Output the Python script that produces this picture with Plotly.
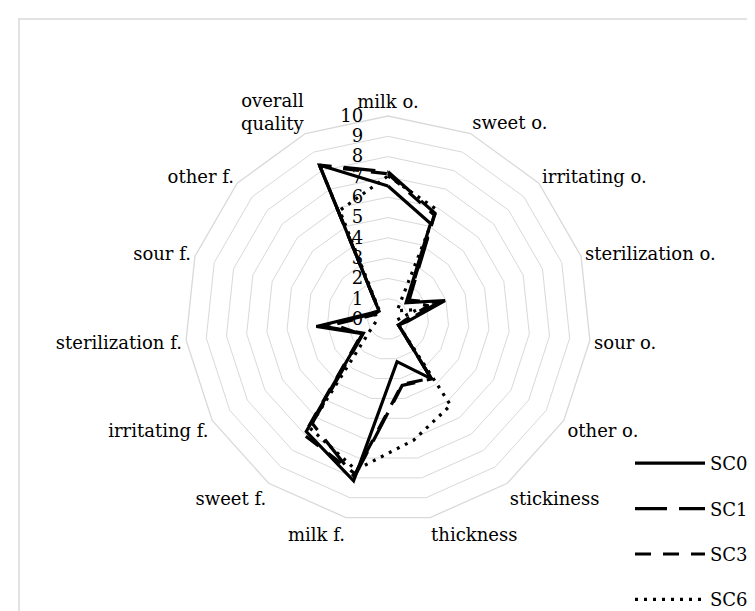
import plotly.graph_objects as go

categories = ["milk o.", "sweet o.", "irritating o.", "sterilization o.", "sour o.",
              "other o.", "stickiness", "thickness", "milk f.", "sweet f.",
              "irritating f.", "sterilization f.", "sour f.", "other f.", "overall<br>quality"]

sc0 = [6.55, 5.15, 1.2, 2.95, 1.0, 0.6, 3.65, 2.15, 8.15, 6.85, 1.45, 3.55, 0.9, 0.6, 8.3]
sc1 = [7.25, 5.7, 1.4, 2.6, 0.9, 0.6, 3.65, 3.35, 7.95, 6.35, 1.4, 3.3, 0.8, 0.6, 8.3]
sc3 = [7.15, 5.6, 1.3, 2.1, 0.8, 0.6, 3.6, 3.3, 7.8, 7.05, 1.5, 2.7, 0.7, 0.6, 8.25]
sc6 = [7.05, 5.9, 0.6, 1.5, 0.45, 0.6, 5.25, 6.1, 7.6, 6.6, 0.95, 0.55, 0.65, 0.55, 5.85]

series_names = ["SC0", "SC1", "SC3", "SC6"]
series_values = [sc0, sc1, sc3, sc6]
dashes = ["solid", "32px,12px", "16px,12px", "3px,6px"]

radial_ticks = list(range(0, 11))

FONT = "DejaVu Serif"
FS = 18

fig = go.Figure()
for name, vals, dash in zip(series_names, series_values, dashes):
    fig.add_trace(go.Scatterpolar(
        r=vals + vals[:1],
        theta=categories + categories[:1],
        mode="lines",
        name=name,
        legendgroup=name,
        line=dict(color="black", width=3.2, dash=dash),
    ))

W, H = 755, 611
cx, cy, R = 380, 311, 203

fig.update_layout(
    width=W, height=H,
    margin=dict(l=0, r=0, t=0, b=0),
    paper_bgcolor="white",
    plot_bgcolor="white",
    font=dict(family=FONT, size=FS, color="black"),
    showlegend=True,
    legend=dict(
        x=622 / W, y=1 - 437 / H, xanchor="left", yanchor="top",
        traceorder="grouped", tracegroupgap=19,
        itemwidth=70,
        font=dict(family=FONT, size=FS, color="black"),
        bgcolor="rgba(0,0,0,0)",
    ),
    polar=dict(
        domain=dict(x=[(cx - R) / W, (cx + R) / W], y=[1 - (cy + R) / H, 1 - (cy - R) / H]),
        gridshape="linear",
        bgcolor="white",
        radialaxis=dict(
            range=[0, 10], tickvals=radial_ticks,
            ticktext=[str(v) for v in radial_ticks],
            angle=90, tickangle=90, side="counterclockwise",
            showline=False, ticks="outside", ticklen=18, tickcolor="rgba(0,0,0,0)",
            showgrid=True, gridcolor="#d9d9d9", gridwidth=1.3,
            tickfont=dict(family=FONT, size=FS, color="black"),
        ),
        angularaxis=dict(
            direction="clockwise", rotation=90,
            showgrid=False, showline=True, linecolor="#d9d9d9", linewidth=1.3,
            ticks="", categoryorder="array", categoryarray=categories,
            tickfont=dict(family=FONT, size=FS, color="black"),
        ),
    ),
    shapes=[dict(type="rect", xref="paper", yref="paper",
                 x0=11 / W, x1=1.02, y0=-0.02, y1=1 - 11 / H,
                 line=dict(color="#d9d9d9", width=1.5), fillcolor="rgba(0,0,0,0)", layer="below")],
)

fig.write_html("out.html")
